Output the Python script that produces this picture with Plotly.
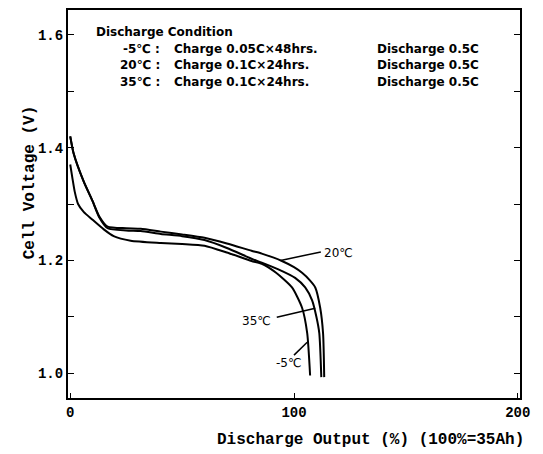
import plotly.graph_objects as go

# ---- data ----
x_20 = [0, 1.5, 6, 10, 13, 16.7, 25, 31.5, 40.5, 50, 60, 70, 81, 85.6, 94.6, 100, 103.6, 107, 109.5, 111.7, 113, 113.5]
v_20 = [1.42, 1.39, 1.34, 1.305, 1.278, 1.260, 1.257, 1.256, 1.251, 1.246, 1.240, 1.230, 1.217, 1.212, 1.199, 1.188, 1.178, 1.165, 1.152, 1.116, 1.070, 0.993]

x_35 = [0, 1.5, 6, 10, 13, 16.7, 25, 31.5, 40.5, 50, 60, 70, 81, 85.6, 93, 100.5, 105, 108.1, 110, 111.3, 112.2]
v_35 = [1.42, 1.39, 1.34, 1.305, 1.276, 1.257, 1.253, 1.252, 1.247, 1.243, 1.236, 1.222, 1.203, 1.196, 1.184, 1.169, 1.152, 1.129, 1.100, 1.071, 0.993]

x_m5 = [0, 1, 2, 3.5, 6, 10, 15, 19.4, 27, 40.5, 50, 60, 70, 81, 85.6, 92, 99.1, 103.6, 105.9, 107.2]
v_m5 = [1.37, 1.345, 1.322, 1.300, 1.286, 1.272, 1.255, 1.243, 1.235, 1.231, 1.229, 1.226, 1.214, 1.199, 1.194, 1.178, 1.152, 1.116, 1.071, 0.996]

x_ticks = [0, 100, 200]
x_ticklabels = ["0", "100", "200"]
y_ticks = [1.0, 1.2, 1.4, 1.6]
y_ticklabels = ["<b>1.0</b>", "<b>1.2</b>", "<b>1.4</b>", "<b>1.6</b>"]

# curve labels: text, text anchor (x, y), pointer start, pointer end
curve_labels = ["20℃", "35℃", "-5℃"]
label_pos = [(112.5, 1.214), (76.0, 1.093), (91.0, 1.018)]
pointer_from = [(94.0, 1.200), (109.5, 1.115), (105.9, 1.055)]
pointer_to = [(112.0, 1.215), (92.3, 1.099), (100.0, 1.032)]

legend_title = "Discharge Condition"
legend_temps = ["-5℃ :", "20℃ :", "35℃ :"]
legend_charge = ["Charge 0.05C×48hrs.", "Charge 0.1C×24hrs.", "Charge 0.1C×24hrs."]
legend_discharge = ["Discharge 0.5C", "Discharge 0.5C", "Discharge 0.5C"]
legend_y = [1.575, 1.546, 1.516]

fig = go.Figure()
for xs, vs in [(x_20, v_20), (x_35, v_35), (x_m5, v_m5)]:
    fig.add_trace(go.Scatter(x=xs, y=vs, mode="lines", line=dict(color="black", width=2, shape="spline", smoothing=0.6),
                             showlegend=False, hoverinfo="skip"))

lab_font = dict(family="DejaVu Sans", size=12, color="black")
for txt, (lx, ly), (fx, fy), (tx, ty) in zip(curve_labels, label_pos, pointer_from, pointer_to):
    fig.add_annotation(x=lx, y=ly, text=txt, showarrow=False, xanchor="left", yanchor="middle", font=lab_font)
    fig.add_shape(type="line", x0=fx, y0=fy, x1=tx, y1=ty, line=dict(color="black", width=1.5))

leg_font = dict(family="DejaVu Sans", size=12, color="black")
fig.add_annotation(x=10.4, y=1.605, text="<b>%s</b>" % legend_title, showarrow=False, xanchor="left", yanchor="middle", font=leg_font)
for t, c, d, ly in zip(legend_temps, legend_charge, legend_discharge, legend_y):
    fig.add_annotation(x=41, y=ly, text="<b>%s</b>" % t, showarrow=False, xanchor="right", yanchor="middle", font=leg_font)
    fig.add_annotation(x=45.5, y=ly, text="<b>%s</b>" % c, showarrow=False, xanchor="left", yanchor="middle", font=leg_font)
    fig.add_annotation(x=136.0, y=ly, text="<b>%s</b>" % d, showarrow=False, xanchor="left", yanchor="middle", font=leg_font)

axis_font = dict(family="Liberation Mono", size=16, color="black")
fig.add_annotation(xref="paper", yref="paper", x=0.325, y=-0.108, xanchor="left", yanchor="middle",
                   text="<b>Discharge Output (%) (100%=35Ah)</b>", showarrow=False, font=axis_font)
fig.add_annotation(xref="paper", yref="paper", x=-0.084, y=0.556, xanchor="center", yanchor="middle", textangle=-90,
                   text="<b>Cell Voltage (V)</b>", showarrow=False, font=axis_font)

fig.update_xaxes(range=[-1, 201], tickvals=x_ticks, ticktext=["<b>%s</b>" % t for t in x_ticklabels],
                 ticks="inside", ticklen=5,
                 showline=True, linecolor="black", linewidth=2, mirror=True, showgrid=False, zeroline=False,
                 tickfont=dict(family="Liberation Mono", size=14, color="black"), tickcolor="black")
fig.update_yaxes(range=[0.956, 1.644], tickvals=y_ticks, ticktext=y_ticklabels, ticks="inside", ticklen=6,
                 minor=dict(dtick=0.1, tick0=1.0, ticks="inside", ticklen=6, tickcolor="black", showgrid=False),
                 showline=True, linecolor="black", linewidth=2, mirror="ticks", showgrid=False, zeroline=False,
                 tickfont=dict(family="Liberation Mono", size=14, color="black"), tickcolor="black")

# page body adds an 8px margin; layout is shrunk to compensate
fig.update_layout(width=535, height=446, margin=dict(l=60, r=23, t=0, b=56),
                  plot_bgcolor="white", paper_bgcolor="white")

fig.write_html("out.html")
